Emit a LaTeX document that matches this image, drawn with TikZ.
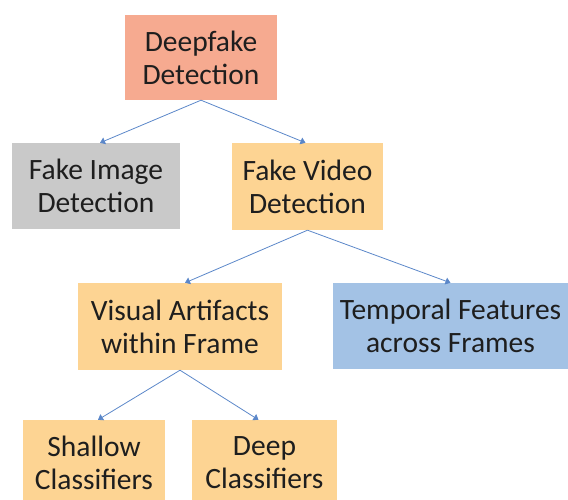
\documentclass[tikz,border=0pt]{standalone}
\usepackage{fontspec}
\setmainfont{Carlito}
\usetikzlibrary{arrows.meta}
\definecolor{salmon}{HTML}{F6AA90}
\definecolor{greybox}{HTML}{C9C9C9}
\definecolor{orangebox}{HTML}{FDD493}
\definecolor{bluebox}{HTML}{A3C2E5}
\definecolor{arrowblue}{HTML}{5B87C9}
\definecolor{txt}{HTML}{1E1E1E}
\begin{document}
\begin{tikzpicture}[x=1pt,y=-1pt,
  box/.style={rectangle, inner sep=0pt, align=center, text=txt,
    font=\fontsize{29.5}{33}\selectfont},
  conn/.style={draw=arrowblue, line width=0.8pt,
    -{Triangle[width=7pt,length=5pt,fill=arrowblue]}}]
\useasboundingbox (0,0) rectangle (568,499);
\clip (0,0) rectangle (568,499);
\node[box, fill=salmon, minimum width=152pt, minimum height=85pt] (top) at (201,57.5) {Deepfake\\Detection};
\node[box, fill=greybox, minimum width=168pt, minimum height=86pt] (img) at (96,186) {Fake Image\\Detection};
\node[box, fill=orangebox, minimum width=151pt, minimum height=87pt] (vid) at (307.5,186.5) {Fake Video\\Detection};
\node[box, fill=orangebox, minimum width=204pt, minimum height=87pt] (vis) at (180,326.5) {Visual Artifacts\\within Frame};
\node[box, fill=bluebox, minimum width=235pt, minimum height=86pt] (tmp) at (450.5,326) {Temporal Features\\across Frames};
\node[box, fill=orangebox, minimum width=142pt, minimum height=86pt] (sha) at (94,463) {Shallow\\Classifiers};
\node[box, fill=orangebox, minimum width=145pt, minimum height=86pt] (dee) at (264.5,463) {Deep\\Classifiers};
\draw[conn] (top.south) -- ([xshift=4pt]img.north);
\draw[conn] (top.south) -- ([xshift=-2pt]vid.north);
\draw[conn] (vid.south) -- ([xshift=5pt]vis.north);
\draw[conn] (vid.south) -- (tmp.north);
\draw[conn] (vis.south) -- ([xshift=4pt]sha.north);
\draw[conn] (vis.south) -- ([xshift=-6pt]dee.north);
\end{tikzpicture}
\end{document}
